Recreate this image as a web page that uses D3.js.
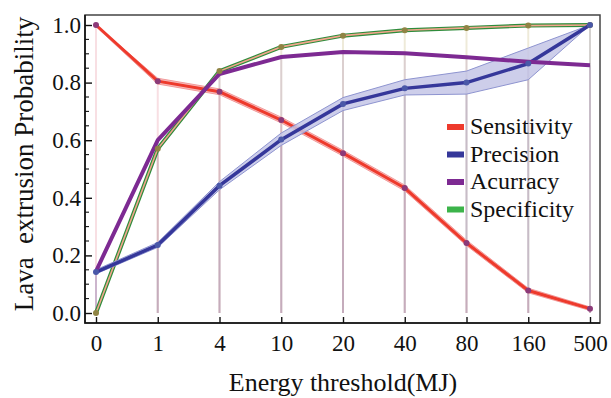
<!DOCTYPE html>
<html>
<head>
<meta charset="utf-8">
<script src="https://cdn.jsdelivr.net/npm/d3@7"></script>
<style>
  body { margin: 0; background: #fff; }
  svg text { font-family: "Liberation Serif", "Times New Roman", serif !important; }
</style>
</head>
<body>
<div id="chart"></div>
<script>
// categories on the x axis
const thresholds = ["0", "1", "4", "10", "20", "40", "80", "160", "500"];

// series
const sensitivity   = [1.0, 0.805, 0.768, 0.67, 0.555, 0.434, 0.243, 0.078, 0.015];
const sensitivityLo = [0.994, 0.795, 0.758, 0.66, 0.545, 0.424, 0.234, 0.07, 0.009];
const sensitivityHi = [1.0, 0.815, 0.778, 0.68, 0.565, 0.444, 0.253, 0.086, 0.021];
const precision     = [0.142, 0.236, 0.442, 0.602, 0.726, 0.78, 0.80, 0.866, 1.0];
const precisionLo   = [0.136, 0.228, 0.428, 0.582, 0.703, 0.757, 0.76, 0.81, 1.0];
const precisionHi   = [0.15, 0.245, 0.456, 0.625, 0.748, 0.81, 0.84, 0.92, 1.0];
const accuracy      = [0.145, 0.60, 0.83, 0.889, 0.906, 0.902, 0.888, 0.872, 0.86];
const specificity   = [0.0, 0.57, 0.84, 0.924, 0.963, 0.982, 0.99, 0.998, 1.0];

const yTicks = [0, 0.2, 0.4, 0.6, 0.8, 1.0];
const legendNames = ["Sensitivity", "Precision", "Acurracy", "Specificity"];
const legendColors = ["#ee3a2c", "#35379a", "#7d2a92", "#3cb44a"];

const serif = "'Liberation Serif', 'Times New Roman', serif";
const width = 611, height = 398;
const svg = d3.select("#chart").append("svg")
    .attr("width", width)
    .attr("height", height);

// frame edges
const frameL = 85, frameR = 600, frameT = 15, frameB = 323;

const x = d3.scalePoint().domain(thresholds).range([96, 590]);
const y = d3.scaleLinear().domain([0, 1]).range([313, 25]);

// drop lines to the axis, one set per series
const drops = [
    { vals: specificity, color: "#b8a860" },
    { vals: sensitivity, color: "#e07a8a" },
    { vals: precision,   color: "#8080b0" },
    { vals: accuracy,    color: "#a07ab0" }
];
drops.forEach(s => {
    svg.append("g").selectAll("line")
        .data(s.vals)
        .join("line")
        .attr("x1", (d, i) => x(thresholds[i]))
        .attr("x2", (d, i) => x(thresholds[i]))
        .attr("y1", d => y(d))
        .attr("y2", y(0))
        .attr("stroke", s.color)
        .attr("stroke-opacity", 0.24)
        .attr("stroke-width", 2);
});

const line = d3.line()
    .x((d, i) => x(thresholds[i]))
    .y(d => y(d));

const band = (lo, hi) => d3.area()
    .x((d, i) => x(thresholds[i]))
    .y0((d, i) => y(lo[i]))
    .y1((d, i) => y(hi[i]))(lo);

// sensitivity
svg.append("path")
    .attr("d", band(sensitivityLo, sensitivityHi))
    .attr("fill", "#f4a0a0")
    .attr("fill-opacity", 0.7)
    .attr("stroke", "#f29a9a")
    .attr("stroke-width", 1);
svg.append("path")
    .datum(sensitivity)
    .attr("d", line)
    .attr("fill", "none")
    .attr("stroke", "#ee3a2c")
    .attr("stroke-width", 3);

// specificity: green edges with a salmon core
svg.append("path")
    .datum(specificity)
    .attr("d", line)
    .attr("fill", "none")
    .attr("stroke", "#2f8c3c")
    .attr("stroke-width", 4);
svg.append("path")
    .datum(specificity)
    .attr("d", line)
    .attr("fill", "none")
    .attr("stroke", "#f2a58c")
    .attr("stroke-width", 1.6);

// precision
svg.append("path")
    .attr("d", band(precisionLo, precisionHi))
    .attr("fill", "#c4c6e6")
    .attr("fill-opacity", 0.85)
    .attr("stroke", "#8e94d0")
    .attr("stroke-width", 1);
svg.append("path")
    .datum(precision)
    .attr("d", line)
    .attr("fill", "none")
    .attr("stroke", "#35379a")
    .attr("stroke-width", 3.5);

// accuracy
svg.append("path")
    .datum(accuracy)
    .attr("d", line)
    .attr("fill", "none")
    .attr("stroke", "#7d2a92")
    .attr("stroke-width", 4);

// points
const pts = [
    { vals: sensitivity, color: "#8c3a78" },
    { vals: specificity, color: "#8f8444" },
    { vals: precision,   color: "#4a58a8" }
];
pts.forEach(s => {
    svg.append("g").selectAll("circle")
        .data(s.vals)
        .join("circle")
        .attr("cx", (d, i) => x(thresholds[i]))
        .attr("cy", d => y(d))
        .attr("r", 3)
        .attr("fill", s.color);
});

// frame
svg.append("rect")
    .attr("x", frameL).attr("y", frameT)
    .attr("width", frameR - frameL).attr("height", frameB - frameT)
    .attr("fill", "none")
    .attr("stroke", "#444")
    .attr("stroke-width", 1.5);
svg.append("path")
    .attr("d", `M${frameL},${frameT}V${frameB}H${frameR}`)
    .attr("fill", "none")
    .attr("stroke", "#111")
    .attr("stroke-width", 1.6);

// y axis (ticks point inward)
const yAxis = svg.append("g")
    .attr("transform", `translate(${frameL},0)`)
    .call(d3.axisLeft(y).tickValues(yTicks).tickFormat(d3.format(".1f"))
        .tickSizeInner(-7).tickSizeOuter(0).tickPadding(4));
yAxis.attr("font-family", null);
yAxis.select(".domain").remove();
yAxis.selectAll("line").attr("stroke", "#111").attr("stroke-width", 1.4);
yAxis.selectAll("text").attr("font-size", 23).attr("fill", "#111")
    .style("font-family", serif);

const minor = d3.range(0, 1.0001, 0.05).filter(v => Math.abs(v * 5 - Math.round(v * 5)) > 1e-6);
svg.append("g").selectAll("line")
    .data(minor)
    .join("line")
    .attr("x1", frameL).attr("x2", frameL + 4)
    .attr("y1", d => y(d)).attr("y2", d => y(d))
    .attr("stroke", "#111").attr("stroke-width", 1.1);

// x axis
const xAxis = svg.append("g")
    .attr("transform", `translate(0,${frameB})`)
    .call(d3.axisBottom(x).tickSizeInner(-6).tickSizeOuter(0).tickPadding(12));
xAxis.attr("font-family", null);
xAxis.select(".domain").remove();
xAxis.selectAll("line").attr("stroke", "#111").attr("stroke-width", 1.4);
xAxis.selectAll("text").attr("font-size", 23).attr("fill", "#111")
    .style("font-family", serif);

// axis titles
svg.append("text")
    .attr("x", 343).attr("y", 391)
    .attr("text-anchor", "middle")
    .attr("font-size", 26)
    .attr("fill", "#111")
    .style("font-family", serif)
    .text("Energy threshold(MJ)");

svg.append("text")
    .attr("transform", "translate(33,164) rotate(-90)")
    .attr("text-anchor", "middle")
    .attr("font-size", 27)
    .attr("fill", "#111")
    .style("font-family", serif)
    .style("white-space", "pre")
    .text("Lava  extrusion Probability");

// legend
const legend = svg.append("g").attr("transform", "translate(447,127)");
const items = legend.selectAll("g")
    .data(legendNames)
    .join("g")
    .attr("transform", (d, i) => `translate(0,${i * 27.5})`);
items.append("rect")
    .attr("x", 0).attr("y", -3)
    .attr("width", 17).attr("height", 6)
    .attr("fill", (d, i) => legendColors[i]);
items.append("text")
    .attr("x", 23).attr("y", 7)
    .attr("font-size", 24)
    .attr("fill", "#111")
    .style("font-family", serif)
    .text(d => d);
</script>
</body>
</html>
